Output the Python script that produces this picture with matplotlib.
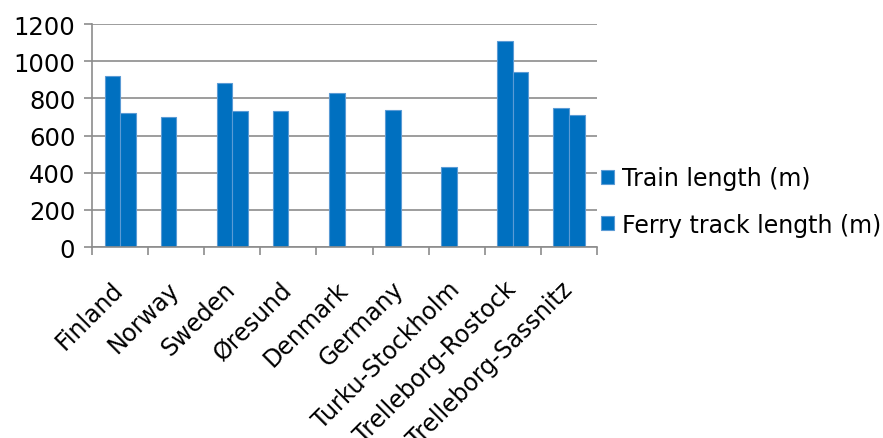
import numpy as np
import matplotlib
matplotlib.use("Agg")
import matplotlib.pyplot as plt
import matplotlib.transforms as mtransforms

# datos por ruta / país (None = sin dato)
categorias = ["Finland", "Norway", "Sweden", "Øresund", "Denmark",
              "Germany", "Turku-Stockholm", "Trelleborg-Rostock",
              "Trelleborg-Sassnitz"]
train_len = [920, 700, 880, 730, 830, 740, 430, 1110, 750]
ferry_len = [720, None, 730, None, None, None, None, 940, 710]

azul = "#0070C0"
borde = "#5b9bd5"
gris = "#8c8c8c"

plt.rcParams["font.family"] = "DejaVu Sans"
plt.rcParams["font.size"] = 17

fig = plt.figure(figsize=(8.83, 4.39), dpi=100)
ax = fig.add_axes([0.1042, 0.435, 0.572, 0.508])

x = np.arange(len(categorias))
w = 0.277
tren = np.array([np.nan if v is None else v for v in train_len], dtype=float)
ferry = np.array([np.nan if v is None else v for v in ferry_len], dtype=float)

ax.bar(x - w / 2, tren, w, color=azul, edgecolor=borde, linewidth=0.8,
       label="Train length (m)")
ax.bar(x + w / 2, ferry, w, color=azul, edgecolor=borde, linewidth=0.8,
       label="Ferry track length (m)")

ax.set_xlim(-0.5, len(categorias) - 0.5)
ax.set_ylim(0, 1200)
ax.set_yticks(range(0, 1201, 200))
ax.yaxis.grid(True, color=gris, linewidth=1.2)
ax.set_axisbelow(True)

for s in ["top", "right"]:
    ax.spines[s].set_visible(False)
for s in ["left", "bottom"]:
    ax.spines[s].set_color(gris)
    ax.spines[s].set_linewidth(1.2)

ax.tick_params(axis="y", length=6, color=gris, width=1.2, pad=6,
               labelsize=17.5)
ax.set_xticks(x)
ax.set_xticklabels(categorias, rotation=45, ha="right", rotation_mode="anchor")
ax.tick_params(axis="x", which="major", length=0, pad=12)
ax.set_xticks(np.arange(-0.5, len(categorias), 1), minor=True)
ax.tick_params(axis="x", which="minor", length=6, color=gris, width=1.2)

# desplazar etiquetas del eje x un poco a la izquierda y abajo
desp = mtransforms.ScaledTranslation(-9 / 100, -13 / 100, fig.dpi_scale_trans)
for lab in ax.get_xticklabels():
    lab.set_transform(lab.get_transform() + desp)

ax.legend(loc="center left", bbox_to_anchor=(0.99, 0.205), frameon=False,
          handlelength=0.55, handleheight=0.55, handletextpad=0.3,
          labelspacing=0.95, borderaxespad=0)

fig.savefig("out.png", dpi=100)
